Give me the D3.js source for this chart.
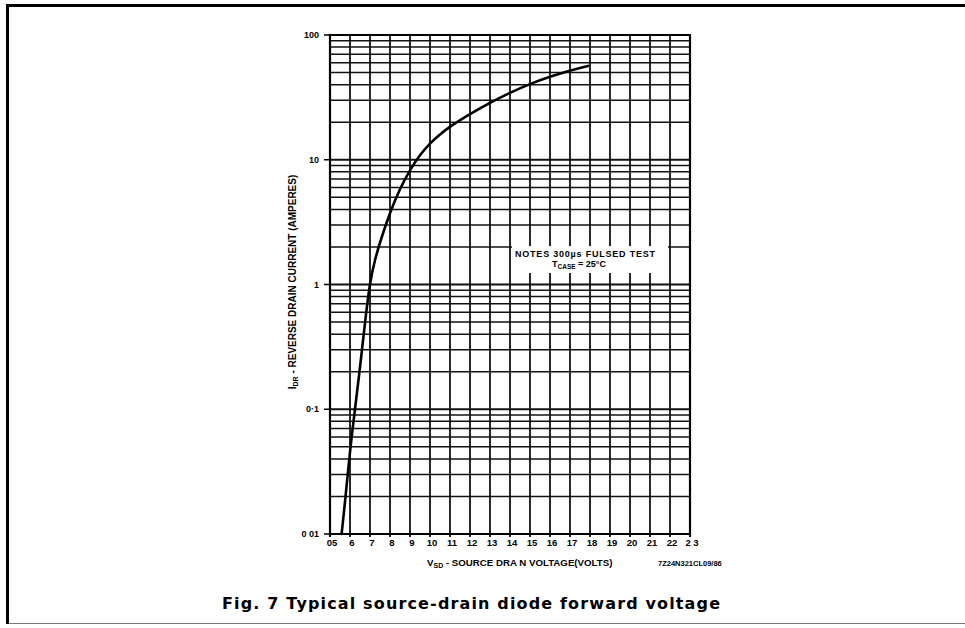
<!DOCTYPE html>
<html>
<head>
<meta charset="utf-8">
<script src="https://cdn.jsdelivr.net/npm/d3@7"></script>
<style>
  html, body { margin: 0; padding: 0; background: #fff; }
  svg { display: block; }
  text { font-family: "Liberation Sans", Arial, sans-serif; fill: #000; }
</style>
</head>
<body>
<svg id="chart" width="965" height="628"></svg>
<script>
// ---- data ----
const xTicks = [5, 6, 7, 8, 9, 10, 11, 12, 13, 14, 15, 16, 17, 18, 19, 20, 21, 22, 23];
const xTickLabels = ["05", "6", "7", "8", "9", "10", "11", "12", "13", "14", "15", "16", "17", "18", "19", "20", "21", "22", "2 3"];
const yTicks = [0.01, 0.1, 1, 10, 100];
const yTickLabels = ["0 01", "0\u00b71", "1", "10", "100"];
const voltage = [5.58, 5.75, 6.0, 6.25, 6.5, 6.75, 7.0, 7.25, 7.5, 8.0, 8.5, 9.0, 9.5, 10.0, 10.5, 11.0, 12.0, 13.0, 14.0, 15.0, 16.0, 17.0, 17.9];
const current = [0.01, 0.0178, 0.047, 0.1, 0.214, 0.5, 1.07, 1.58, 2.19, 3.8, 5.9, 8.3, 11.0, 13.6, 16.0, 18.5, 23.3, 28.7, 34.5, 40.6, 46.3, 52.0, 56.5];

const svg = d3.select("#chart");

// frame
svg.append("line").attr("x1", 6).attr("x2", 965).attr("y1", 5.5).attr("y2", 5.5)
  .attr("stroke", "#000").attr("stroke-width", 3);
svg.append("line").attr("x1", 7.5).attr("x2", 7.5).attr("y1", 4).attr("y2", 624)
  .attr("stroke", "#000").attr("stroke-width", 3);
svg.append("line").attr("x1", 9).attr("x2", 965).attr("y1", 623.5).attr("y2", 623.5)
  .attr("stroke", "#777").attr("stroke-width", 1);

// plot geometry
const L = 330, R = 690, T = 35, B = 534;
const x = d3.scaleLinear().domain([5, 23]).range([L, R]);
const y = d3.scaleLog().domain([0.01, 100]).range([B, T]);

const g = svg.append("g");

// horizontal log grid
const hLines = [];
for (let e = -2; e < 2; e++) {
  for (let m = 1; m <= 9; m++) hLines.push(m * Math.pow(10, e));
}
hLines.push(100);
g.selectAll("line.h").data(hLines).enter().append("line")
  .attr("x1", L).attr("x2", R)
  .attr("y1", d => y(d)).attr("y2", d => y(d))
  .attr("stroke", "#111")
  .attr("stroke-width", d => (Math.abs(Math.log10(d) - Math.round(Math.log10(d))) < 1e-9) ? 2 : 1.5);

// vertical grid
g.selectAll("line.v").data(xTicks).enter().append("line")
  .attr("x1", d => x(d)).attr("x2", d => x(d))
  .attr("y1", T).attr("y2", B + 3)
  .attr("stroke", "#111")
  .attr("stroke-width", (d, i) => (i === 0 || i === xTicks.length - 1) ? 2.2 : 1.8);

// border
g.append("rect").attr("x", L).attr("y", T).attr("width", R - L).attr("height", B - T)
  .attr("fill", "none").attr("stroke", "#000").attr("stroke-width", 2);

// y ticks (small outward dashes)
g.selectAll("line.yt").data(yTicks).enter().append("line")
  .attr("x1", L - 6).attr("x2", L)
  .attr("y1", d => y(d)).attr("y2", d => y(d))
  .attr("stroke", "#000").attr("stroke-width", 1.5);

// tick labels
g.selectAll("text.yl").data(yTicks).enter().append("text")
  .attr("x", L - 11).attr("y", d => y(d) + 3)
  .attr("text-anchor", "end")
  .attr("font-size", 9).attr("font-weight", "bold")
  .text((d, i) => yTickLabels[i]);

g.selectAll("text.xl").data(xTicks).enter().append("text")
  .attr("x", d => x(d) + 2).attr("y", B + 12)
  .attr("text-anchor", "middle")
  .attr("font-size", 9.5).attr("font-weight", "bold")
  .text((d, i) => xTickLabels[i]);

// notes box (white background over grid)
g.append("rect").attr("x", 512).attr("y", 246).attr("width", 156).attr("height", 27)
  .attr("fill", "#fff");
g.append("text").attr("x", 515).attr("y", 257)
  .attr("font-size", 9).attr("font-weight", "bold")
  .attr("textLength", 140).attr("lengthAdjust", "spacing")
  .text("NOTES  300\u00b5s  FULSED TEST");
const n2 = g.append("text").attr("x", 552).attr("y", 266.5)
  .attr("font-size", 9).attr("font-weight", "bold");
n2.append("tspan").text("T");
n2.append("tspan").attr("font-size", 6.5).attr("dy", 2).text("CASE");
n2.append("tspan").attr("dy", -2).text(" = 25\u00b0C");

// curve
const pts = voltage.map((v, i) => [v, current[i]]);
const line = d3.line().x(d => x(d[0])).y(d => y(d[1])).curve(d3.curveBasis);
g.append("path").datum(pts).attr("d", line)
  .attr("fill", "none").attr("stroke", "#000").attr("stroke-width", 2.6)
  .attr("stroke-linecap", "round");

// x axis title
const xt = svg.append("text").attr("x", 427).attr("y", 566)
  .attr("font-size", 9.7).attr("font-weight", "bold");
xt.append("tspan").text("V");
xt.append("tspan").attr("font-size", 7).attr("dy", 2).text("SD");
xt.append("tspan").attr("dy", -2).text(" - SOURCE DRA N VOLTAGE(VOLTS)");

svg.append("text").attr("x", 658).attr("y", 566)
  .attr("font-size", 7.5).attr("font-weight", "bold")
  .text("7Z24N321CL09/86");

// y axis title (rotated)
const yt = svg.append("text")
  .attr("transform", "translate(296,282) rotate(-90)")
  .attr("text-anchor", "middle")
  .attr("font-size", 10).attr("font-weight", "bold");
yt.append("tspan").text("I");
yt.append("tspan").attr("font-size", 7).attr("dy", 2).text("DR");
yt.append("tspan").attr("dy", -2).text(" - REVERSE  DRAIN  CURRENT (AMPERES)");

// caption
svg.append("text").attr("x", 222).attr("y", 609)
  .style("font-family", "'DejaVu Sans', sans-serif")
  .attr("font-size", 16).attr("font-weight", "bold")
  .attr("textLength", 498).attr("lengthAdjust", "spacing")
  .text("Fig. 7 Typical source-drain diode forward voltage");
</script>
</body>
</html>
